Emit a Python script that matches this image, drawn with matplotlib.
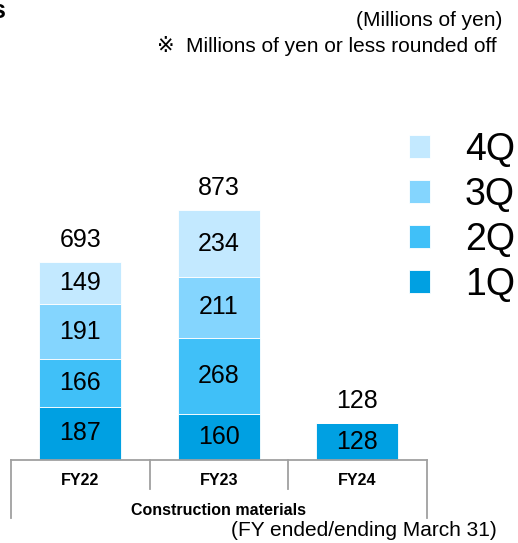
import matplotlib.pyplot as plt
from matplotlib.patches import Patch

plt.rcParams['font.family'] = ['Liberation Sans', 'DejaVu Sans', 'Noto Sans CJK JP']

years = ['FY22', 'FY23', 'FY24']
q1 = [187, 160, 128]
q2 = [166, 268, 0]
q3 = [191, 211, 0]
q4 = [149, 234, 0]
totals = [693, 873, 128]
quarters = ['1Q', '2Q', '3Q', '4Q']
colors = ['#00A0E2', '#40C0F8', '#84D5FE', '#C3E9FF']


def main():
    fig = plt.figure(figsize=(5.18, 5.43), dpi=100)
    # axes placed so the baseline sits where the reference has it
    ax = fig.add_axes([11 / 518, 83 / 543, 415.5 / 518, 314.6 / 543])
    ax.set_xlim(-0.5, 2.5)
    ax.set_ylim(0, 1100)

    x = list(range(len(years)))
    series = [q1, q2, q3, q4]
    bottom = [0, 0, 0]
    for vals, col in zip(series, colors):
        ax.bar(x, vals, 0.59, bottom=bottom, color=col, edgecolor='white', linewidth=0.6)
        for i, v in enumerate(vals):
            if v > 0:
                ax.text(x[i], bottom[i] + v / 2, str(v), ha='center', va='center', fontsize=18)
        bottom = [b + v for b, v in zip(bottom, vals)]

    for i, t in enumerate(totals):
        ax.annotate(str(t), (x[i], t), xytext=(0, 16), textcoords='offset points',
                    ha='center', va='center', fontsize=18)

    for s in ax.spines.values():
        s.set_visible(False)
    ax.set_xticks([])
    ax.set_yticks([])

    # category table lines under the bars
    gray = '#a0a0a0'
    ax.plot([-0.5, 2.5], [0, 0], color=gray, lw=1.3, clip_on=False)
    for xs in [-0.5, 2.5]:
        ax.plot([xs, xs], [0, -203], color=gray, lw=1.3, clip_on=False)
    for xs in [0.5, 1.5]:
        ax.plot([xs, xs], [0, -101], color=gray, lw=1.3, clip_on=False)
    for i, y in enumerate(years):
        ax.text(x[i], -70, y, ha='center', va='center', fontsize=11.5, fontweight='bold')
    ax.text(1, -175, 'Construction materials', ha='center', va='center',
            fontsize=11.5, fontweight='bold')

    handles = [Patch(facecolor=c, edgecolor='white', lw=0.6) for c in colors][::-1]
    fig.legend(handles, quarters[::-1], loc='upper left',
               bbox_to_anchor=(409 / 518, 1 - 132 / 543), frameon=False,
               fontsize=27, handlelength=0.56, handleheight=0.56,
               handletextpad=0.93, labelspacing=0.24, borderpad=0, borderaxespad=0)

    fig.text(502 / 518, 1 - 21 / 543, '(Millions of yen)', ha='right', va='center', fontsize=15)
    fig.text(497 / 518, 1 - 46 / 543, '\u203b  Millions of yen or less rounded off',
             ha='right', va='center', fontsize=15)
    fig.text(497 / 518, 1 - 530 / 543, '(FY ended/ending March 31)',
             ha='right', va='center', fontsize=15)
    fig.text(5 / 518, 1 - 11 / 543, 's', ha='right', va='center', fontsize=18, fontweight='bold')

    fig.savefig('out.png', dpi=100)


if __name__ == "__main__":
    main()
